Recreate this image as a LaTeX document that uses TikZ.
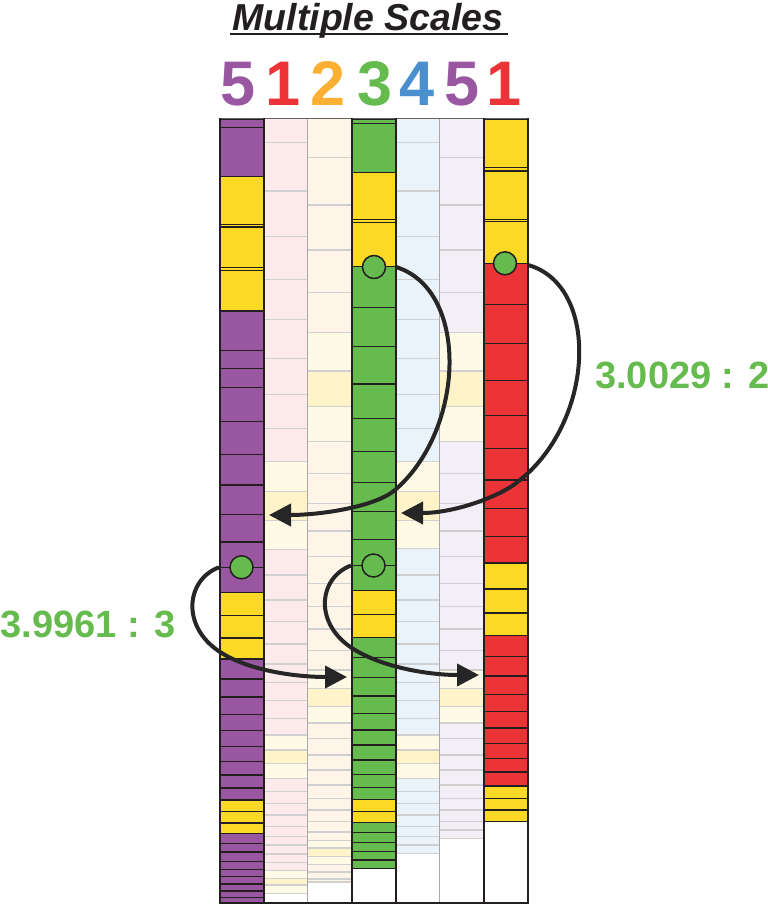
\documentclass[tikz,border=0pt]{standalone}
\usepackage{fontspec}
\setmainfont{Liberation Sans}
\usetikzlibrary{arrows.meta}
\definecolor{cP}{HTML}{9A57A1}
\definecolor{cR}{HTML}{EC3338}
\definecolor{cO}{HTML}{FBB034}
\definecolor{cG}{HTML}{66BB4F}
\definecolor{cB}{HTML}{4A90CF}
\definecolor{cY}{HTML}{FCD925}
\definecolor{cDark}{HTML}{231F20}
\definecolor{cArrow}{HTML}{262626}
\definecolor{cPink}{HTML}{FDEAEA}
\definecolor{cCream}{HTML}{FEF5E8}
\definecolor{cLBlue}{HTML}{EAF2FA}
\definecolor{cLav}{HTML}{F4EEF7}
\definecolor{cLY}{HTML}{FFFAE6}
\definecolor{cMY}{HTML}{FFF3C9}
\definecolor{cGrid}{HTML}{D0D0D0}
\definecolor{cSep}{HTML}{A8A8A8}
\newcommand{\strongcol}[2]{%
  \foreach \ta/\tb/\cc in {#2} {\draw[cell, fill=\cc] (#1,\ta) rectangle ({#1+44},\tb);}%
}
\newcommand{\faintcol}[5]{%
  \fill[#2] (#1,119) rectangle ({#1+44},#3);%
  \foreach \ta/\tb/\cc in {#5} {\fill[\cc] (#1,\ta) rectangle ({#1+44},\tb);}%
  \foreach \yy in {#4} {\draw[gridline] (#1,\yy) -- ({#1+44},\yy);}%
  \draw[gridline] (#1,#3) -- ({#1+44},#3);%
}
\begin{document}
\begin{tikzpicture}[x=1pt,y=-1pt,
  cell/.style={draw=cDark,line width=1.4pt},
  gridline/.style={draw=cGrid,line width=1.2pt},
  sepline/.style={draw=cSep,line width=1.5pt},
  edgeline/.style={draw=cDark,line width=2pt},
  digit/.style={anchor=base,inner sep=0pt,font=\fontsize{63}{63}\selectfont\bfseries},
  lbl/.style={anchor=base west,inner sep=0pt,text=cG,font=\fontsize{38}{40}\selectfont\bfseries},
  dot/.style={circle,draw=cDark,line width=1.5pt,fill=cG,minimum size=23pt,inner sep=0pt},
  link/.style={draw=cArrow,line width=4pt,-{Triangle[length=22pt,width=22pt]}}]
\useasboundingbox (0,0) rectangle (768,905);
\fill[white] (0,0) rectangle (768,905);

% faint columns
\faintcol{263.5}{cPink}{893.3}{142.3,191,236.7,279.5,319.5,358.3,394.7,428.3,461.3,491.7,520.5,549.3,575,600,621.7,644,664,682.5,700.5,718.5,735,750,763.3,778.3,791.7,803.3,815,826.7,836.7,845,854,862.7,870.7,878.3,885}{461.3/491.7/cLY,491.7/520.5/cMY,520.5/549.3/cLY,735/750/cLY,750/763.3/cMY,763.3/778.3/cLY,870.7/878.3/cLY,878.3/885/cMY,885/893.3/cLY}
\faintcol{307.5}{cCream}{882}{157.7,205,250,292.5,332.3,371,406.7,441.5,473.3,503.3,531,556.7,583.3,606.7,629,650.5,670,688.3,706.7,723,738.5,755,770,785,798.3,810,821.7,832,840.5,848,856.5,864.5,872,879}{332.3/371/cLY,371/406.7/cMY,406.7/441.5/cLY,670/688.3/cLY,688.3/706.7/cMY,706.7/723/cLY,840.5/848/cLY,848/856.5/cMY,856.5/864.5/cLY}
\faintcol{395.5}{cLBlue}{853.3}{142.3,191,236.7,279.5,319.5,358.3,394.7,428.3,461.3,491.7,520.5,548.3,575,600,621.7,644,664,682.5,700.5,718.5,735,750,763.3,778.3,791.3,803.3,815,826.7,836.3,845}{461.3/491.7/cLY,491.7/520.5/cMY,520.5/548.3/cLY,735/750/cLY,750/763.3/cMY,763.3/778.3/cLY}
\faintcol{439.5}{cLav}{838.3}{157.7,205,250,292.5,332.3,371,406.7,441.5,473.3,503.3,531,556.7,583.3,606.7,629,650.5,670,688.3,706.7,723,738.5,755,770,785,798.3,810,821.7,830}{332.3/371/cLY,371/406.7/cMY,406.7/441.5/cLY,670/688.3/cLY,688.3/706.7/cMY,706.7/723/cLY}

% grey separators
\draw[sepline] (307.5,118.5) -- (307.5,902.5);
\draw[sepline] (439.5,118.5) -- (439.5,902.5);

% strong columns
\strongcol{219.5}{119/127.7/cP,127.7/176.7/cP,176.7/224.3/cY,224.3/227/cY,227/267.7/cY,267.7/270.3/cY,270.3/311/cY,311/350.7/cP,350.7/368.3/cP,368.3/387.3/cP,387.3/421.7/cP,421.7/454.3/cP,454.3/485/cP,485/514.3/cP,514.3/542/cP,542/567.3/cP,567.3/592.5/cP,592.5/615.5/cY,615.5/637.8/cY,637.8/658.8/cY,658.8/678.8/cP,678.8/697/cP,697/714.5/cP,714.5/730.5/cP,730.5/746.5/cP,746.5/761.3/cP,761.3/775/cP,775/788/cP,788/800/cP,800/811.5/cY,811.5/823/cY,823/833.3/cY,833.3/843.3/cP,843.3/852/cP,852/861.3/cP,861.3/869.5/cP,869.5/876.7/cP,876.7/884/cP,884/891/cP,891/897.5/cP,897.5/902.5/cP}
\strongcol{351.5}{119/123.3/cG,123.3/172.3/cG,172.3/219.3/cY,219.3/222.3/cY,222.3/266.7/cY,266.7/307.5/cG,307.5/346.7/cG,346.7/384/cG,384/418.3/cG,418.3/451.3/cG,451.3/482.3/cG,482.3/511.7/cG,511.7/539.3/cG,539.3/565.5/cG,565.5/590.5/cG,590.5/614.2/cY,614.2/637.3/cY,637.3/657.3/cG,657.3/677.5/cG,677.5/695.8/cG,695.8/713.3/cG,713.3/730/cG,730/745/cG,745/760/cG,760/774.3/cG,774.3/787.7/cG,787.7/799.3/cG,799.3/811.7/cY,811.7/822.3/cY,822.3/832.7/cG,832.7/842.3/cG,842.3/851.7/cG,851.7/860/cG,860/868.3/cG}
\strongcol{483.5}{119/167.7/cY,167.7/171/cY,171/219.3/cY,219.3/221.7/cY,221.7/263.3/cY,263.3/304.3/cR,304.3/343.3/cR,343.3/380.7/cR,380.7/415.7/cR,415.7/448.3/cR,448.3/480/cR,480/508.7/cR,508.7/536.7/cR,536.7/563/cR,563/589/cY,589/613/cY,613/635.5/cY,635.5/656.3/cR,656.3/675.8/cR,675.8/694.5/cR,694.5/711.7/cR,711.7/728/cR,728/743.7/cR,743.7/758.3/cR,758.3/772/cR,772/786/cR,786/798.3/cY,798.3/810/cY,810/821.3/cY}

% frame lines
\draw[draw=cDark!70,line width=1.5pt] (219.5,118.5) -- (527.5,118.5);
\draw[edgeline] (219.5,902.5) -- (527.5,902.5);
\foreach \xx in {219.5,263.5,351.5,395.5,483.5,527.5} {\draw[edgeline] (\xx,118) -- (\xx,903.5);}

% circles
\node[dot] (c1) at (374,267) {};
\node[dot] (c2) at (505,263.3) {};
\node[dot] (c3) at (241.5,567.3) {};
\node[dot] (c4) at (373.5,565.5) {};

% connector ends
\coordinate (sA) at (396,267);
\coordinate (eA) at (269,515);
\coordinate (sB) at (528,265);
\coordinate (eB) at (401,513);
\coordinate (sC) at (219,567.3);
\coordinate (eC) at (347,677);
\coordinate (sD) at (351,565.5);
\coordinate (eD) at (479,675);

\draw[link] (sA) .. controls (470,290) and (465,430) .. (395,490) .. controls (375,507) and (320,515) .. (eA);
\draw[link] (sB) .. controls (600,285) and (595,420) .. (520,480) .. controls (502,496) and (455,513) .. (eB);
\draw[link] (sC) .. controls (185,580) and (180,630) .. (225,655) .. controls (255,672) and (300,677) .. (eC);
\draw[link] (sD) .. controls (318,578) and (313,625) .. (355,650) .. controls (385,668) and (430,675) .. (eD);

% title
\node[anchor=base,inner sep=0pt,text=cDark,font=\fontsize{37.5}{40}\selectfont\bfseries\itshape] (title) at (368,30.5) {Multiple Scales};
\draw[cDark,line width=2pt] ([shift={(-2pt,-3.5pt)}]title.base west) -- ([shift={(4pt,-3.5pt)}]title.base east);

% digits
\node[digit,text=cP] (d1) at (238,105) {5};
\node[digit,text=cR] (d2) at (283.5,105) {1};
\node[digit,text=cO] (d3) at (328,105) {2};
\node[digit,text=cG] (d4) at (375,105) {3};
\node[digit,text=cB] (d5) at (417,105) {4};
\node[digit,text=cP] (d6) at (462,105) {5};
\node[digit,text=cR] (d7) at (504.5,105) {1};

% ratio labels
\node[lbl] (r1) at (595,388.3) {3.0029 : 2};
\node[lbl] (r2) at (0.5,637) {3.9961 : 3};
\end{tikzpicture}
\end{document}
